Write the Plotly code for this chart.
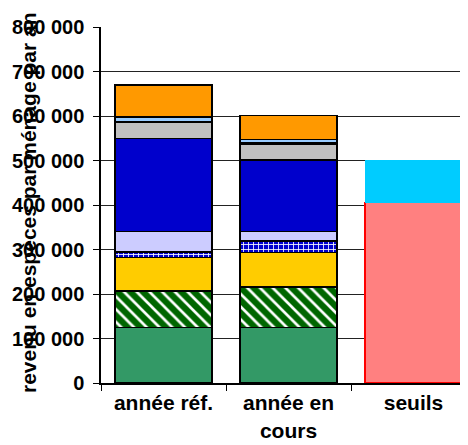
import plotly.graph_objects as go

categories = ["année réf.", "année en<br>cours", "seuils"]

# segment values for the first two bars, bottom to top
green = [125000, 125000]
green_hatch = [82000, 91000]
yellow = [75000, 77000]
blue_check = [12000, 26000]
lavender = [47000, 22000]
blue = [209000, 160000]
grey = [35000, 36000]
black = [2000, 2000]
light_blue = [11000, 8000]
orange = [72000, 54000]

# thresholds bar
seuil_bas = [406000]
seuil_haut = [94000]

yticks = [0, 100000, 200000, 300000, 400000, 500000, 600000, 700000, 800000]
yticklabels = ["0", "100 000", "200 000", "300 000", "400 000", "500 000",
               "600 000", "700 000", "800 000"]

FONT = "Liberation Sans, Arial, sans-serif"
fig = go.Figure()
line_k = dict(color="black", width=1.5)
W = 0.775

def add(vals, color, pattern=None, cats=None, line=line_k):
    marker = dict(color=color, line=line)
    if pattern:
        marker["pattern"] = pattern
    fig.add_trace(go.Bar(x=cats or categories[:2], y=vals, marker=marker,
                         width=W, showlegend=False))

add(green, "#339966")
add(green_hatch, "#006600", dict(shape="\\", fgcolor="white", bgcolor="#006600",
                                 size=9, solidity=0.3, fillmode="replace"))
add(yellow, "#FFCC00")
add(blue_check, "#0000CC", dict(shape="+", fgcolor="white", bgcolor="#0000CC",
                                size=5, solidity=0.3, fillmode="replace"))
add(lavender, "#CCCCFF")
add(blue, "#0000CC")
add(grey, "#C0C0C0")
add(black, "#000000")
add(light_blue, "#99CCFF")
add(orange, "#FF9900")
add(seuil_bas, "#FF8080", cats=[categories[2]], line=dict(color="#FF0000", width=1.5))
add(seuil_haut, "#00CCFF", cats=[categories[2]], line=dict(color="#00CCFF", width=1))

fig.update_layout(
    barmode="stack",
    width=468, height=445,
    margin=dict(l=93, r=0, t=19, b=70),
    plot_bgcolor="white", paper_bgcolor="white",
    font=dict(family=FONT, size=21, color="black"),
    xaxis=dict(type="category", range=[-0.5, 2.5], tickson="boundaries",
               ticks="outside", ticklen=6, tickcolor="black", tickwidth=1,
               showline=True, linecolor="black", linewidth=2,
               tickfont=dict(family=FONT, size=21, color="black", weight="bold"),
               showgrid=False, automargin=False),
    yaxis=dict(range=[0, 800000], tickvals=yticks, ticktext=yticklabels,
               ticks="outside", ticklen=6, tickcolor="black",
               showline=True, linecolor="black", linewidth=1.5,
               showgrid=True, gridcolor="#222222", gridwidth=1,
               tickfont=dict(family=FONT, size=20, color="black", weight="bold"),
               ticklabelstandoff=5,
               zeroline=False, automargin=False),
    bargap=0.225,
)

fig.add_annotation(text="revenu en espèces par ménage par an", textangle=-90,
                   xref="paper", yref="paper", x=-0.195, y=0.508,
                   xanchor="center", yanchor="middle", showarrow=False,
                   font=dict(family=FONT, size=21, color="black", weight="bold"))

fig.write_html("out.html")
